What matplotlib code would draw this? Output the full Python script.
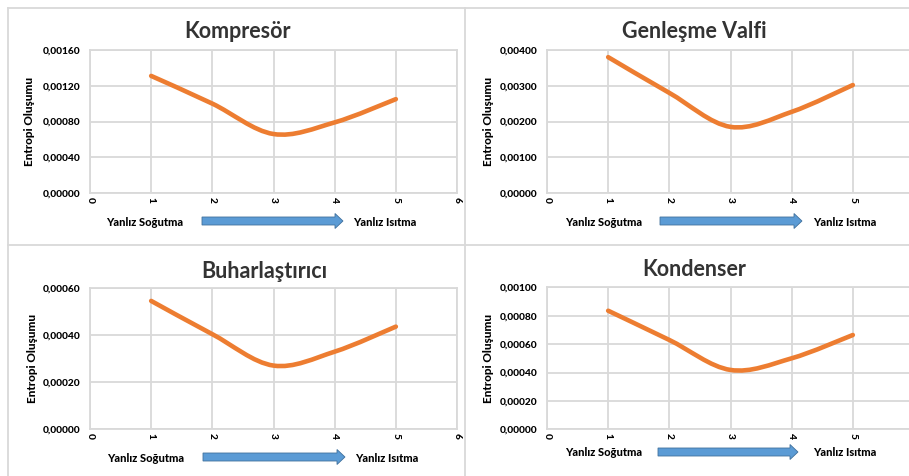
import numpy as np
import matplotlib
matplotlib.use("Agg")
import matplotlib.pyplot as plt
from matplotlib.path import Path
from matplotlib.patches import PathPatch, FancyArrow
from matplotlib.lines import Line2D
from matplotlib.ticker import FuncFormatter

plt.rcParams['font.family'] = ['Lato', 'DejaVu Sans']

W, H = 909, 476

# veri
x = [1, 2, 3, 4, 5]
kompresor = [0.00131, 0.00100, 0.00066, 0.00079, 0.00105]
genlesme = [0.00380, 0.00280, 0.00185, 0.00227, 0.00302]
buharlastirici = [0.000544, 0.000403, 0.000270, 0.000329, 0.000435]
kondenser = [0.000835, 0.000629, 0.000418, 0.000500, 0.000664]

titles = ["Kompresör", "Genleşme Valfi", "Buharlaştırıcı", "Kondenser"]
series = [kompresor, genlesme, buharlastirici, kondenser]
ymax = [0.0016, 0.004, 0.0006, 0.001]
ystep = [0.0004, 0.001, 0.0002, 0.0002]
xticks = [0, 1, 2, 3, 4, 5, 6]
left_text = "Yanlız Soğutma"
right_text = "Yanlız Isıtma"

# yerlesim (piksel)
layout = [
    dict(ax=(90, 50, 193), title=(237, 32), ylab=(30, 121.5), bot=222, lt=145, arr=(202, 343), rt=385),
    dict(ax=(547, 50, 193), title=(694, 32), ylab=(488, 121.5), bot=222, lt=604, arr=(660, 802), rt=845),
    dict(ax=(90, 287.7, 429.3), title=(264, 271), ylab=(32, 358.5), bot=458, lt=146, arr=(203, 345), rt=387),
    dict(ax=(547, 287.3, 429.3), title=(694, 270), ylab=(488, 358.5), bot=453, lt=604, arr=(658, 798), rt=845),
]
AXW = 367

fig = plt.figure(figsize=(W / 100, H / 100), dpi=100)

def fx(px):
    return px / W

def fy(py):
    return 1 - py / H

# panel cizgileri
grid_c = '#D9D9D9'
for (x0, y0, x1, y1) in [(8, 8, 909, 8), (8, 8, 8, 476), (465, 8, 465, 476), (8, 245, 909, 245)]:
    fig.add_artist(Line2D([fx(x0), fx(x1)], [fy(y0), fy(y1)], color=grid_c, lw=1.3))


def smooth_path(xs, ys):
    # Excel tarzi yumusak cizgi (Bezier)
    p = list(zip(xs, ys))
    verts = [p[0]]
    codes = [Path.MOVETO]
    n = len(p)
    for i in range(n - 1):
        p0 = p[i - 1] if i > 0 else p[i]
        p1 = p[i]
        p2 = p[i + 1]
        p3 = p[i + 2] if i + 2 < n else p[i + 1]
        c1 = (p1[0] + (p2[0] - p0[0]) / 6, p1[1] + (p2[1] - p0[1]) / 6)
        c2 = (p2[0] - (p3[0] - p1[0]) / 6, p2[1] - (p3[1] - p1[1]) / 6)
        verts += [c1, c2, p2]
        codes += [Path.CURVE4] * 3
    return Path(verts, codes)


for i in range(4):
    L = layout[i]
    left, top, bottom = L['ax']
    ax = fig.add_axes([fx(left), fy(bottom), AXW / W, (bottom - top) / H])
    ax.set_xlim(0, 6)
    ax.set_ylim(0, ymax[i])
    ax.set_xticks(xticks)
    ax.set_yticks(np.arange(0, ymax[i] + ystep[i] / 2, ystep[i]))
    ax.yaxis.set_major_formatter(FuncFormatter(lambda v, p: f"{v:.5f}".replace('.', ',')))
    ax.grid(True, color=grid_c, lw=1.3)
    ax.set_axisbelow(True)
    for s in ax.spines.values():
        s.set_color(grid_c)
        s.set_linewidth(1.3)
    ax.tick_params(length=0)
    ax.tick_params(axis='y', pad=7, labelsize=7.3)
    ax.tick_params(axis='x', pad=3, labelsize=7.3, labelrotation=-90)
    for t in ax.get_xticklabels() + ax.get_yticklabels():
        t.set_fontweight('black')
    if i % 2 == 1:
        # sagdaki "6" resmin disinda kaliyor
        ax.get_xticklabels()[-1].set_visible(False)
    ax.add_patch(PathPatch(smooth_path(x, series[i]), facecolor='none',
                           edgecolor='#ED7D31', lw=3.3, capstyle='round', joinstyle='round'))

    fig.text(fx(L['title'][0]), fy(L['title'][1]), titles[i], ha='center', va='center',
             fontsize=15.5, fontweight='bold', color='#333333')
    fig.text(fx(L['ylab'][0]), fy(L['ylab'][1]), "Entropi Oluşumu", ha='center', va='center',
             rotation=90, fontsize=8.5, fontweight='black')
    fig.text(fx(L['lt']), fy(L['bot']), left_text, ha='center', va='center',
             fontsize=8, fontweight='black')
    fig.text(fx(L['rt']), fy(L['bot']), right_text, ha='center', va='center',
             fontsize=8, fontweight='black')
    a0, a1 = L['arr']
    yc = L['bot'] - 1
    arrow = FancyArrow(a0, H - yc, a1 - a0, 0, width=8, head_width=15, head_length=8,
                       length_includes_head=True, transform=None,
                       facecolor='#5B9BD5', edgecolor='#41719C', lw=0.6)
    fig.add_artist(arrow)

fig.savefig("out.png", dpi=100)
